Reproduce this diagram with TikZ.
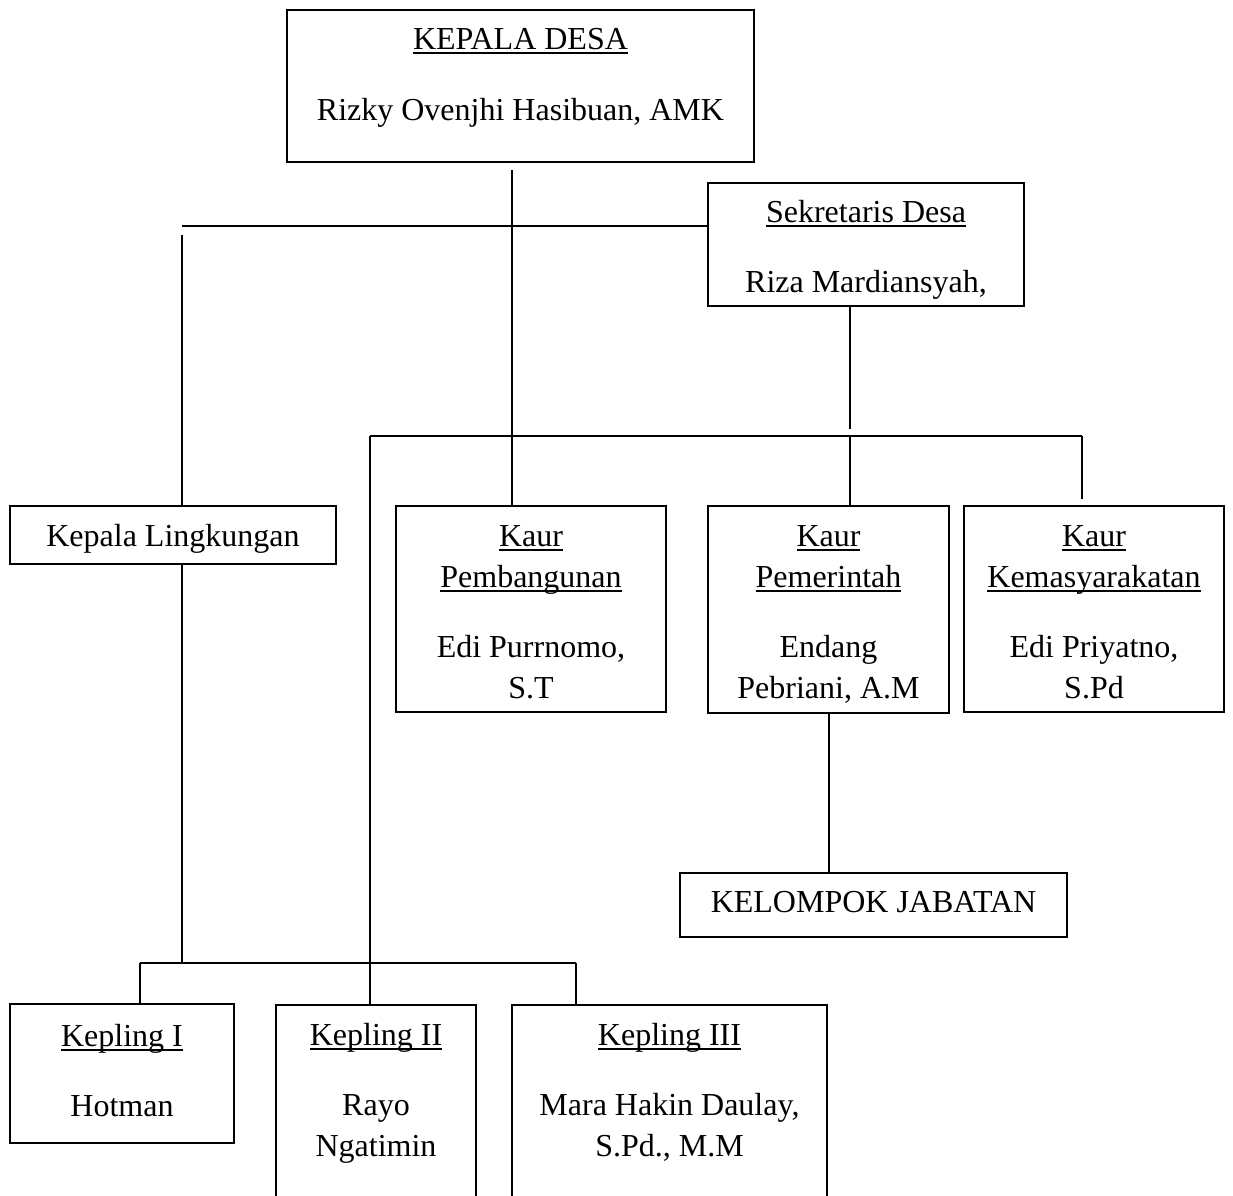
\documentclass[tikz,border=0pt]{standalone}
\usepackage{fontspec}
\setmainfont{Liberation Serif}
\usepackage{tikz}

\newsavebox{\garisbox}
\newcommand{\garis}[1]{\leavevmode\sbox{\garisbox}{#1}\rlap{\rule[-5pt]{\wd\garisbox}{2pt}}\usebox{\garisbox}}

\begin{document}
\begin{tikzpicture}[x=1pt, y=-1pt, line width=2pt,
  font=\fontsize{32}{41}\selectfont,
  kotak/.style={draw, line width=2pt, inner sep=0pt, outer sep=0pt, align=flush center, anchor=north}]
  \path[use as bounding box, clip] (0,0) rectangle (1233,1195);

  % boxes
  \node[kotak, text width=467pt, text height=39pt, text depth=113pt] (kades) at (520.5,10) {\garis{KEPALA DESA}\\[30pt]Rizky Ovenjhi Hasibuan, AMK};
  \node[kotak, text width=316pt, text height=39pt, text depth=84pt] (sekdes) at (866,183) {\garis{Sekretaris Desa}\\[29pt]Riza Mardiansyah,};
  \node[kotak, text width=326pt, text height=40pt, text depth=18pt] (kaling) at (173,506) {Kepala Lingkungan};
  \node[kotak, text width=270pt, text height=40pt, text depth=166pt] (pemb) at (531,506) {\garis{Kaur}\\\garis{Pembangunan}\\[29pt]Edi Purrnomo,\\S.T};
  \node[kotak, text width=241pt, text height=40pt, text depth=167pt] (pem) at (828.5,506) {\garis{Kaur}\\\garis{Pemerintah}\\[29pt]Endang\\Pebriani, A.M};
  \node[kotak, text width=260pt, text height=40pt, text depth=166pt] (kemas) at (1094,506) {\garis{Kaur}\\\garis{Kemasyarakatan}\\[29pt]Edi Priyatno,\\S.Pd};
  \node[kotak, text width=387pt, text height=39pt, text depth=25pt] (kelompok) at (873.5,873) {KELOMPOK JABATAN};
  \node[kotak, text width=224pt, text height=42pt, text depth=97pt] (kep1) at (122,1004) {\garis{Kepling I}\\[29pt]Hotman};
  \node[kotak, text width=200pt, text height=40pt, text depth=260pt] (kep2) at (376,1005) {\garis{Kepling II}\\[29pt]Rayo\\Ngatimin};
  \node[kotak, text width=315pt, text height=40pt, text depth=260pt] (kep3) at (669.5,1005) {\garis{Kepling III}\\[29pt]Mara Hakin Daulay,\\S.Pd., M.M};

  % junctions
  \coordinate (atas) at (512,170);
  \coordinate (kiri) at (182,226);
  \coordinate (kiriB) at (182,235);
  \coordinate (tengah) at (850,429);
  \coordinate (bagiA) at (370,436);
  \coordinate (bagiB) at (1082,436);
  \coordinate (ujungB) at (1082,499);
  \coordinate (bagiC) at (140,963);
  \coordinate (bagiD) at (576,963);

  % lines
  \draw (atas) -- (atas |- pemb.north);
  \draw (kiri) -- (kiri -| sekdes.west);
  \draw (kiriB) -- (kiriB |- kaling.north);
  \draw (kiriB |- kaling.south) -- (kiriB |- bagiC);
  \draw (bagiC) -- (bagiD);
  \draw (bagiC) -- (bagiC |- kep1.north);
  \draw (bagiD) -- (bagiD |- kep3.north);
  \draw (tengah |- sekdes.south) -- (tengah);
  \draw (bagiA) -- (bagiB);
  \draw (bagiA) -- (bagiA |- kep2.north);
  \draw (tengah |- bagiA) -- (tengah |- pem.north);
  \draw (bagiB) -- (ujungB);
  \draw (pem.south) -- (pem.south |- kelompok.north);
\end{tikzpicture}
\end{document}
